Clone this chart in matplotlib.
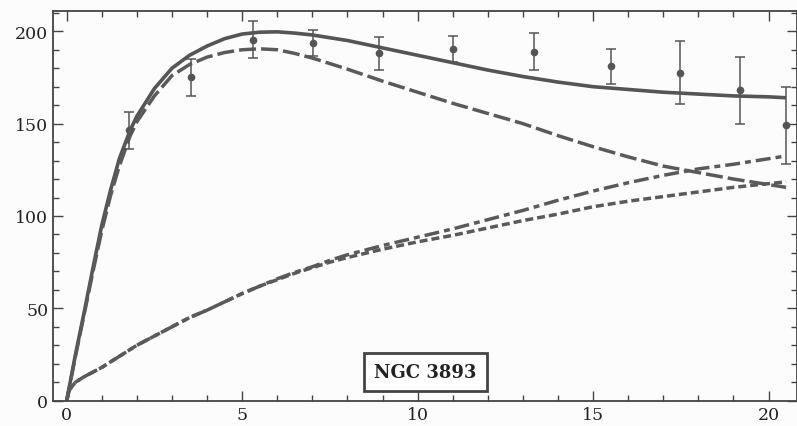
import matplotlib
matplotlib.use("Agg")
import matplotlib.pyplot as plt
import numpy as np
from matplotlib.ticker import MultipleLocator

plt.rcParams['font.family'] = ['DejaVu Serif']

# observed rotation velocities (radius, velocity, error)
r_obs = [1.78, 3.55, 5.32, 7.02, 8.89, 11.0, 13.33, 15.51, 17.47, 19.2, 20.51]
v_obs = [146.5, 175, 195.5, 193.5, 188, 190.5, 189, 181, 177.5, 168, 149]
v_err = [10, 10, 10, 7, 9, 7, 10, 9.5, 17, 18, 21]

# model curves
r_total = [0, 0.25, 0.5, 0.75, 1, 1.25, 1.5, 1.8, 2, 2.5, 3, 3.5, 4, 4.5, 5, 5.5, 6,
           6.5, 7, 7.5, 8, 9, 10, 11, 12, 13, 14, 15, 16, 17, 18, 19, 20, 20.5]
v_total = [0, 25, 48, 72, 95, 114, 131, 146, 154, 169, 180, 187, 192, 196, 198.5, 199.5, 199.7,
           199, 198, 196.5, 195, 191, 187, 183, 179, 175.5, 172.5, 170, 168.5, 167, 166, 165, 164.5, 164]
v_disk = [0, 24, 47, 70, 92, 111, 127, 143, 151, 165, 176, 182, 186, 188.5, 190, 190.5, 190,
          188, 185.5, 182.5, 179.5, 173, 167, 161, 155.5, 150, 143.5, 137.5, 132, 127, 123.5, 120, 117, 115.5]

r_halo = [0, 0.05, 0.1, 0.25, 0.5, 0.75, 1, 1.5, 2, 2.5, 3, 3.5, 4, 4.5, 5, 5.5, 6, 6.5, 7,
          7.5, 8, 9, 10, 11, 12, 13, 14, 15, 16, 17, 18, 19, 20, 20.5]
v_dashdot = [0, 4, 6.5, 10, 13, 15.5, 18, 24, 30, 35, 40, 45, 49, 53.5, 58, 62, 66, 69.5, 72.5,
             76, 79, 84, 88.5, 93, 98, 103, 108.5, 113.5, 118, 122, 125.5, 128, 131, 132.5]
v_dotted = [0, 4, 6.5, 10, 13, 15.5, 18, 24, 30, 35, 40, 45, 49, 53.5, 58, 62, 65.5, 69, 72,
            75, 77.5, 82, 86, 89.5, 93.5, 97.5, 101, 105, 108, 110.5, 113, 115.5, 117.5, 118.5]

fig = plt.figure(figsize=(7.97, 4.27), dpi=100, facecolor='#fcfcfc')
ax = fig.add_axes([0.0665, 0.0593, 0.933, 0.9127])
ax.set_facecolor('#fcfcfc')

grey = '#5a5a5a'
ax.plot(r_total, v_total, color='#555555', lw=2.6, solid_capstyle='butt')
ax.plot(r_total, v_disk, color=grey, lw=2.5, dashes=(4.9, 1.45))
ax.plot(r_halo, v_dashdot, color=grey, lw=2.5, dashes=(4.3, 1.45, 1.7, 1.45))
ax.plot(r_halo, v_dotted, color=grey, lw=2.5, dashes=(2.3, 1.15))
ax.errorbar(r_obs, v_obs, yerr=v_err, fmt='o', ms=4.5, color='#555555',
            ecolor='#555555', elinewidth=1.1, capsize=3.5, capthick=1.1)

ax.set_xlim(-0.39, 20.8)
ax.set_ylim(0, 211)
ax.xaxis.set_major_locator(MultipleLocator(5))
ax.xaxis.set_minor_locator(MultipleLocator(1))
ax.yaxis.set_major_locator(MultipleLocator(50))
ax.yaxis.set_minor_locator(MultipleLocator(10))
ax.tick_params(which='both', direction='in', top=True, right=True, colors='#444444',
               labelcolor='#222222', labelsize=12.5, width=1.0)
ax.tick_params(which='major', length=7)
ax.tick_params(which='minor', length=4)
for s in ax.spines.values():
    s.set_color('#444444')
    s.set_linewidth(1.3)

ax.text(0.501, 0.074, 'NGC 3893', transform=ax.transAxes, ha='center', va='center',
        fontsize=13, fontweight='bold', color='#222222',
        bbox=dict(boxstyle='square,pad=0.55', fc='white', ec='#444444', lw=2))

fig.savefig('out.png', dpi=100, facecolor=fig.get_facecolor())
